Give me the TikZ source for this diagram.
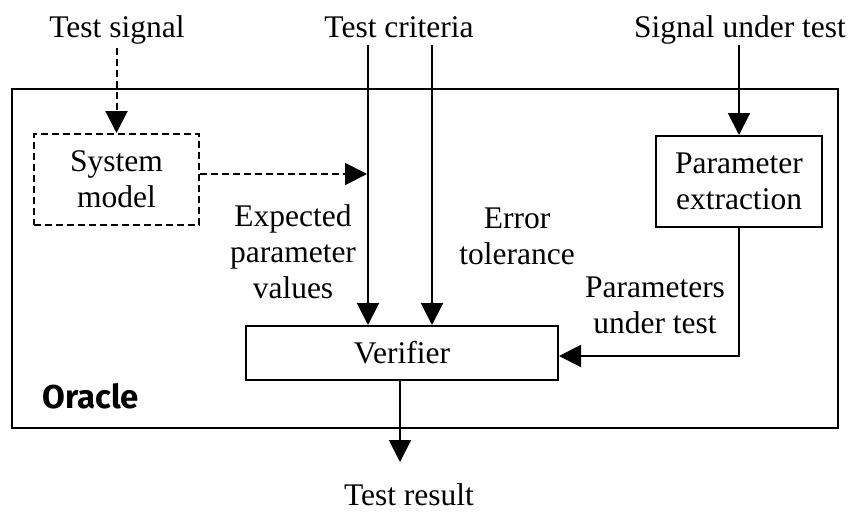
\documentclass[tikz,border=0pt]{standalone}
\usepackage{fontspec}
\setmainfont{Liberation Serif}
\newfontfamily\framefont{Fira Sans}
\usetikzlibrary{arrows.meta}
\begin{document}
\begin{tikzpicture}[x=1pt,y=-1pt,
  every node/.style={font=\fontsize{31.5}{36}\selectfont, inner sep=0pt, align=center},
  wire/.style={line width=2pt, -{Triangle[length=22pt,width=22pt]}},
  dashline/.style={dash pattern=on 7pt off 4pt},
  block/.style={draw, line width=2pt, rectangle},
  caption/.style={anchor=base}]
\useasboundingbox (0,0) rectangle (851,512);

% oracle frame
\node[block, minimum width=826pt, minimum height=339pt] (oracle) at (425,258.5) {};
\node[anchor=base west, font=\framefont\bfseries\fontsize{33}{36}\selectfont] (oname) at (42,408) {Oracle};

% blocks
\node[block, dashline, minimum width=165pt, minimum height=91pt] (sysmodel) at (116.5,179.5) {System\\model};
\node[block, minimum width=166pt, minimum height=91pt] (paramex) at (739,181.5) {Parameter\\extraction};
\node[block, minimum width=312pt, minimum height=54pt] (verifier) at (402,353) {Verifier};

% outer captions
\node[caption] (tsig) at (117,37) {Test signal};
\node[caption] (tcrit) at (399,37) {Test criteria};
\node[caption] (sut) at (740,37) {Signal under test};
\node[caption] (tres) at (409,505) {Test result};

% inner labels (base anchor sits on the last line)
\node[caption] (expected) at (293,298) {Expected\\parameter\\values};
\node[caption] (errtol) at (517,264) {Error\\tolerance};
\node[caption] (pundertest) at (655,333) {Parameters\\under test};

% free ends of connectors
\coordinate (tsigstart) at (116.5,48);
\coordinate (crit1) at (368,45);
\coordinate (crit2) at (432,45);
\coordinate (sutstart) at (739,45);
\coordinate (modeljoin) at (367,174);
\coordinate (resend) at (400,462);

% connectors
\draw[wire, dashline] (tsigstart) -- (sysmodel.north);
\draw[wire, dashline] ([yshift=5.5pt]sysmodel.east) -- (modeljoin);
\draw[wire] (crit1) -- (crit1 |- verifier.north);
\draw[wire] (crit2) -- (crit2 |- verifier.north);
\draw[wire] (sutstart) -- (paramex.north);
\draw[wire] (paramex.south) |- ([yshift=-3pt]verifier.east);
\draw[wire] (resend |- verifier.south) -- (resend);
\end{tikzpicture}
\end{document}
